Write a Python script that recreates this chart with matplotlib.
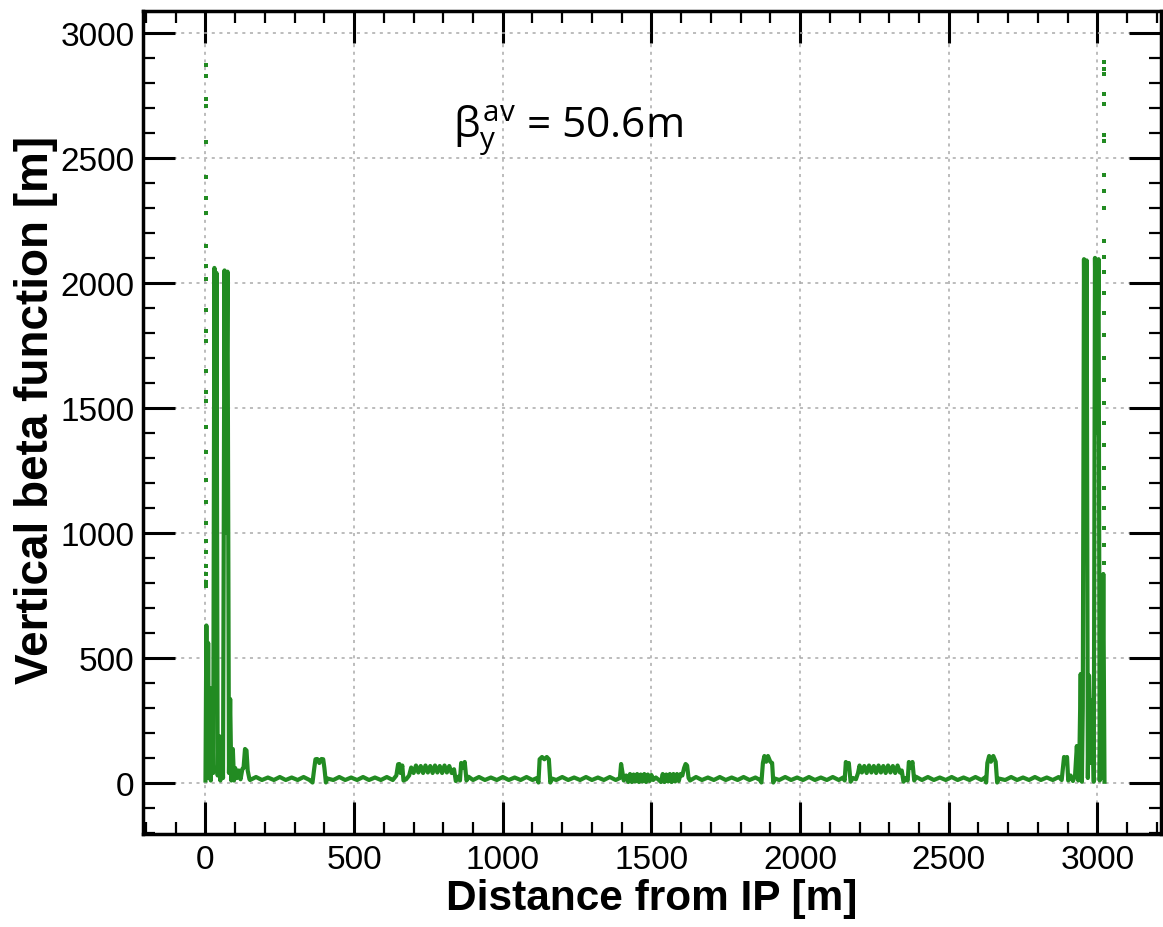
import matplotlib.pyplot as plt
from matplotlib.ticker import MultipleLocator

# beta_y along the ring
s_left = [0, 3, 6, 9, 12, 15, 18, 22, 26, 30, 34, 37, 41, 46, 50, 55, 59, 64, 68, 74, 79,
          83, 87, 92, 96, 100, 106, 112, 118, 124, 128, 133, 138, 142, 148]
beta_left = [10, 630, 20, 560, 30, 380, 10, 376, 40, 2060, 900, 2040, 30, 188, 10, 180, 20,
             2050, 1000, 2045, 40, 336, 10, 136, 10, 60, 20, 50, 15, 56, 60, 136, 130, 50, 15]

s_arc = [150, 170, 190, 210, 230, 250, 270, 290, 310, 330, 350,
         360, 366, 370, 376, 383, 390, 396, 400, 405, 410,
         430, 450, 470, 490, 510, 530, 550, 570, 590, 610, 630,
         642, 648, 652, 656, 662, 666,
         675, 685, 692, 700, 708, 716, 724, 732, 740, 748, 756, 764, 772, 780, 788, 796, 804,
         812, 820, 828, 836, 842,
         850, 856, 860, 866, 872, 878, 885,
         900, 920, 940, 960, 980, 1000, 1020, 1040, 1060, 1080, 1100, 1115,
         1120, 1124, 1132, 1140, 1148, 1155, 1160, 1165,
         1180, 1200, 1220, 1240, 1260, 1280, 1300, 1320, 1340, 1360, 1380,
         1394, 1398, 1403, 1407,
         1415, 1422, 1428, 1434, 1440, 1446, 1452, 1458, 1464, 1470, 1476, 1482, 1488, 1494,
         1500, 1506, 1515, 1525,
         1532, 1538, 1544, 1550, 1556, 1562, 1568, 1574, 1580, 1586, 1592, 1598, 1604,
         1610, 1615, 1620, 1625, 1630,
         1650, 1670, 1690, 1710, 1730, 1750, 1770, 1790, 1810, 1830, 1850, 1865,
         1870, 1875, 1880, 1886, 1892, 1900, 1906, 1910, 1915,
         1930, 1950, 1970, 1990, 2010, 2030, 2050, 2070, 2090, 2110, 2130, 2145,
         2150, 2154, 2160, 2164, 2170, 2178, 2188,
         2195, 2200, 2208, 2216, 2224, 2232, 2240, 2248, 2256, 2264, 2272, 2280, 2288, 2296,
         2304, 2312, 2320, 2328, 2336, 2342, 2348,
         2356, 2362, 2366, 2372, 2378, 2384, 2390,
         2410, 2430, 2450, 2470, 2490, 2510, 2530, 2550, 2570, 2590, 2610, 2622,
         2626, 2630, 2636, 2642, 2650, 2658, 2663, 2668,
         2690, 2710, 2730, 2750, 2770, 2790, 2810, 2830, 2850, 2870, 2880]
beta_arc = [12, 24, 12, 22, 12, 24, 12, 22, 12, 24, 12,
            2, 60, 95, 96, 80, 96, 95, 60, 2, 18,
            12, 24, 12, 22, 12, 24, 12, 22, 12, 24, 12,
            30, 75, 76, 40, 70, 10,
            15, 30, 62, 40, 70, 42, 68, 40, 70, 42, 68, 40, 70, 42, 68, 40, 70,
            42, 68, 40, 55, 8,
            25, 10, 80, 60, 84, 10, 25,
            12, 24, 12, 22, 12, 24, 12, 22, 12, 24, 12, 20,
            2, 95, 104, 95, 104, 95, 2, 18,
            12, 24, 12, 22, 12, 24, 12, 22, 12, 24, 12,
            20, 76, 40, 10,
            30, 4, 36, 4, 34, 6, 36, 4, 34, 6, 36, 4, 34, 8,
            32, 12, 22, 12,
            4, 36, 4, 34, 6, 36, 4, 36, 6, 36, 8, 36, 30,
            60, 76, 70, 20, 10,
            24, 12, 22, 12, 24, 12, 22, 12, 24, 12, 22, 12,
            2, 80, 108, 85, 108, 85, 80, 2, 18,
            12, 24, 12, 22, 12, 24, 12, 22, 12, 24, 12, 22,
            10, 84, 60, 80, 5, 20, 15,
            40, 70, 42, 68, 40, 70, 42, 68, 40, 70, 42, 68, 40, 70,
            42, 68, 40, 70, 42, 50, 5,
            20, 10, 84, 60, 84, 10, 25,
            12, 24, 12, 22, 12, 24, 12, 22, 12, 24, 12, 22,
            2, 80, 108, 85, 108, 85, 2, 18,
            12, 24, 12, 22, 12, 24, 12, 22, 12, 24, 12]

s_right = [2884, 2888, 2894, 2898, 2902, 2910, 2918, 2925, 2931, 2936, 2940, 2944, 2948,
           2951, 2955, 2960, 2964, 2968, 2972, 2978, 2983, 2988, 2992, 2998, 3004, 3008,
           3012, 3016, 3020, 3024]
beta_right = [60, 104, 80, 104, 10, 30, 8, 30, 148, 10, 140, 436, 5,
              300, 2095, 1200, 2090, 20, 430, 80, 330, 5, 2100, 1400, 2095, 10,
              600, 20, 836, 5]

# sparse samples near the IP on both ends
dots_left_y = [2872, 2828, 2736, 2708, 2564, 2424, 2340, 2280, 2148, 2068, 2016, 1892,
               1808, 1768, 1648, 1564, 1528, 1424, 1324, 1212, 1124, 1040, 968, 924, 868,
               836, 804, 788]
dots_right_y = [2884, 2856, 2836, 2756, 2716, 2592, 2568, 2432, 2368, 2300, 2168, 2104,
                2044, 1960, 1880, 1790, 1700, 1610, 1520, 1440, 1350, 1260, 1180, 1100,
                1020, 950, 880]

green = '#228B22'

plt.rcParams['font.family'] = ['Liberation Sans', 'DejaVu Sans']
plt.rcParams['mathtext.fontset'] = 'custom'
plt.rcParams['mathtext.rm'] = 'Open Sans'
plt.rcParams['mathtext.it'] = 'Open Sans'

fig = plt.figure(figsize=(11.63, 9.28), dpi=100)
ax = fig.add_axes([0.123, 0.1002, 0.875, 0.887])

ax.plot(s_left + s_arc + s_right, beta_left + beta_arc + beta_right, color=green, lw=3)
ax.plot([3] * len(dots_left_y), dots_left_y, 's', color=green, ms=2.3, mew=0)
ax.plot([3022] * len(dots_right_y), dots_right_y, 's', color=green, ms=2.3, mew=0)

ax.set_xlim(-210, 3213)
ax.set_ylim(-204, 3088)
ax.xaxis.set_major_locator(MultipleLocator(500))
ax.xaxis.set_minor_locator(MultipleLocator(100))
ax.yaxis.set_major_locator(MultipleLocator(500))
ax.yaxis.set_minor_locator(MultipleLocator(100))

ax.tick_params(which='both', direction='in', top=True, right=True, labelsize=24)
ax.tick_params(which='major', length=23, width=2.2)
ax.tick_params(which='minor', length=8.5, width=1.6)
ax.tick_params(axis='x', pad=7)
ax.tick_params(axis='y', pad=6)
for sp in ax.spines.values():
    sp.set_linewidth(2.5)

ax.grid(True, which='major', color='#aaaaaa', linestyle=(0, (2, 3)), lw=1.1)

ax.set_xlabel('Distance from IP [m]', fontsize=30.5, fontweight='bold', labelpad=2)
ax.set_ylabel('Vertical beta function [m]', fontsize=33, fontweight='bold')
ax.yaxis.set_label_coords(-0.084, 0.516)

ax.text(834, 2584, r'$\beta_\mathrm{y}^\mathrm{av}$ = 50.6m', fontsize=30.5,
        family='Open Sans', va='baseline', ha='left')

fig.savefig('out.png', dpi=100)
